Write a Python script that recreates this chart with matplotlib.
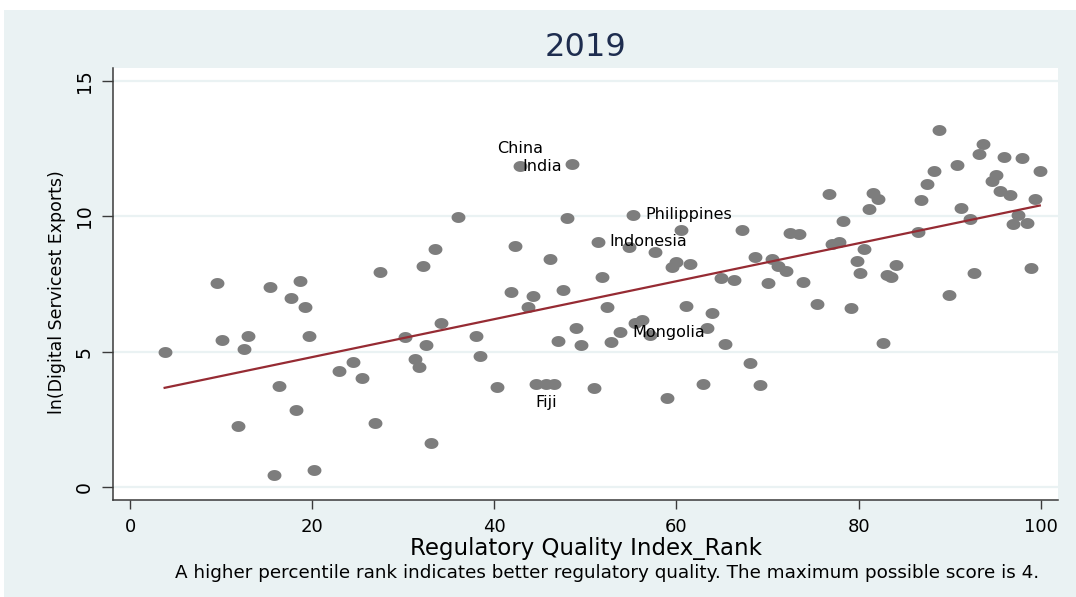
import numpy as np
import matplotlib
matplotlib.use("Agg")
import matplotlib.pyplot as plt
from matplotlib.path import Path
from matplotlib.patches import Rectangle

plt.rcParams['font.family'] = ['DejaVu Sans']

# regulatory quality rank vs ln(digital services exports), 2019
reg_rank = [3.8, 9.6, 10.1, 11.9, 12.5, 13.0, 15.35, 15.8, 16.35, 17.7,
            18.2, 18.66, 19.2, 19.7, 20.2, 23.0, 24.5, 25.5, 26.9, 27.4,
            30.2, 31.3, 31.7, 32.2, 32.5, 33.0, 33.5, 34.1, 36.0, 38.0,
            38.4, 40.3, 41.8, 42.3, 42.8, 43.7, 44.2, 44.6, 45.7, 46.1,
            46.6, 47.0, 47.5, 48.0, 48.5, 49.0, 49.5, 50.9, 51.4, 51.8,
            52.4, 52.8, 53.8, 54.8, 55.2, 55.4, 56.2, 57.1, 57.6, 59.0,
            59.5, 60.0, 60.5, 61.0, 61.5, 62.9, 63.4, 63.9, 64.9, 65.3,
            66.3, 67.2, 68.1, 68.6, 69.2, 70.1, 70.5, 71.1, 72.0, 72.5,
            73.5, 73.9, 75.4, 76.8, 77.1, 77.9, 78.3, 79.2, 79.8, 80.2,
            80.6, 81.2, 81.6, 82.1, 82.7, 83.1, 83.6, 84.1, 86.5, 86.9,
            87.5, 88.3, 88.8, 89.9, 90.8, 91.3, 92.2, 92.7, 93.2, 93.7,
            94.7, 95.1, 95.5, 96.0, 96.6, 97.0, 97.5, 98.0, 98.5, 98.9,
            99.4, 99.9]
ln_exports = [4.97, 7.55, 5.41, 2.24, 5.09, 5.58, 7.39, 0.45, 3.74, 6.99,
              2.83, 7.61, 6.65, 5.57, 0.64, 4.28, 4.62, 4.04, 2.35, 7.93,
              5.52, 4.73, 4.44, 8.15, 5.26, 1.63, 8.78, 6.06, 9.96, 5.58,
              4.82, 3.70, 7.19, 8.88, 11.87, 6.64, 7.07, 3.80, 3.80, 8.40,
              3.82, 5.39, 7.27, 9.94, 11.92, 5.87, 5.24, 3.65, 9.06, 7.76,
              6.65, 5.34, 5.72, 8.86, 10.06, 6.05, 6.15, 5.63, 8.66, 3.30,
              8.12, 8.31, 9.49, 6.70, 8.23, 3.80, 5.87, 6.41, 7.70, 5.28,
              7.64, 9.49, 4.56, 8.50, 3.75, 7.53, 8.40, 8.15, 7.98, 9.38,
              9.34, 7.56, 6.75, 10.80, 8.99, 9.04, 9.83, 6.62, 8.35, 7.90,
              8.79, 10.25, 10.86, 10.63, 5.32, 7.81, 7.75, 8.19, 9.42, 10.59,
              11.19, 11.65, 13.18, 7.08, 11.88, 10.31, 9.89, 7.91, 12.29, 12.65,
              11.31, 11.52, 10.92, 12.19, 10.77, 9.72, 10.05, 12.13, 9.73, 8.10,
              10.63, 11.66]

# labelled countries
label_names = ['China', 'India', 'Philippines', 'Indonesia', 'Mongolia', 'Fiji']
label_x = [42.8, 48.5, 55.2, 51.4, 53.8, 45.7]
label_y = [11.87, 11.92, 10.06, 9.06, 5.72, 3.80]
# (offset in points, ha, va) per label
label_pos = {'China': ((0, 12.5), 'center', 'center'),
             'India': ((-7, -2), 'right', 'center'),
             'Philippines': ((9, 0), 'left', 'center'),
             'Indonesia': ((8, 0), 'left', 'center'),
             'Mongolia': ((9, 0), 'left', 'center'),
             'Fiji': ((0, -13), 'center', 'center')}

x_ticks = [0, 20, 40, 60, 80, 100]
y_ticks = [0, 5, 10, 15]

bg = '#EAF2F3'
dot = '#7d7d7d'
fit_col = '#962b33'

fig = plt.figure(figsize=(10.76, 5.97), dpi=100)
fig.patch.set_facecolor('white')
fig.patches.append(Rectangle((4 / 1076, 0), 1 - 4 / 1076, 1 - 10 / 597,
                             transform=fig.transFigure, facecolor=bg,
                             edgecolor='none', zorder=-10))

ax = fig.add_axes([113 / 1076, 1 - 500 / 597, 945 / 1076, 432 / 597])
ax.set_facecolor('white')

# slightly wide elliptical dot
t = np.linspace(0, 2 * np.pi, 60)
ellipse = Path(np.column_stack([1.27 * np.cos(t), np.sin(t)]), closed=True)

ax.scatter(reg_rank, ln_exports, s=100, marker=ellipse, color=dot,
           linewidths=0, zorder=3)

# linear fit
x_arr = np.array(reg_rank)
slope, intercept = np.polyfit(x_arr, np.array(ln_exports), 1)
xs = np.array([x_arr.min(), x_arr.max()])
ax.plot(xs, intercept + slope * xs, color=fit_col, lw=1.6, zorder=4)

for name, lx, ly in zip(label_names, label_x, label_y):
    off, ha, va = label_pos[name]
    ax.annotate(name, (lx, ly), xytext=off, textcoords='offset points',
                ha=ha, va=va, fontsize=11.5, color='black', zorder=5)

ax.set_xlim(-1.87, 101.9)
ax.set_ylim(-0.48, 15.47)
ax.set_xticks(x_ticks)
ax.set_yticks(y_ticks)
ax.yaxis.grid(True, color=bg, lw=1.6)
ax.set_axisbelow(True)
for s in ['top', 'right']:
    ax.spines[s].set_visible(False)
for s in ['left', 'bottom']:
    ax.spines[s].set_color('#3a3a3a')
    ax.spines[s].set_linewidth(1.1)
ax.tick_params(axis='x', length=6.5, width=1, color='#3a3a3a', pad=6.5,
               labelsize=13)
ax.tick_params(axis='y', length=8, width=1, color='#3a3a3a', pad=6,
               labelsize=13.5)
for lab in ax.get_yticklabels():
    lab.set_rotation(90)
    lab.set_va('center')

fig.text(585.5 / 1076, 1 - 47.5 / 597, '2019', ha='center', va='center',
         fontsize=23, color='#1e2d4f')
fig.text(586 / 1076, 1 - 548 / 597, 'Regulatory Quality Index_Rank',
         ha='center', va='center', fontsize=16.5)
fig.text(56.7 / 1076, 1 - 292 / 597, 'ln(Digital Servicest Exports)',
         ha='center', va='center', rotation=90, fontsize=12.5)
fig.text(607.5 / 1076, 1 - 573 / 597,
         'A higher percentile rank indicates better regulatory quality. '
         'The maximum possible score is 4.',
         ha='center', va='center', fontsize=13.2)

fig.savefig('out.png', dpi=100, facecolor=fig.get_facecolor())
